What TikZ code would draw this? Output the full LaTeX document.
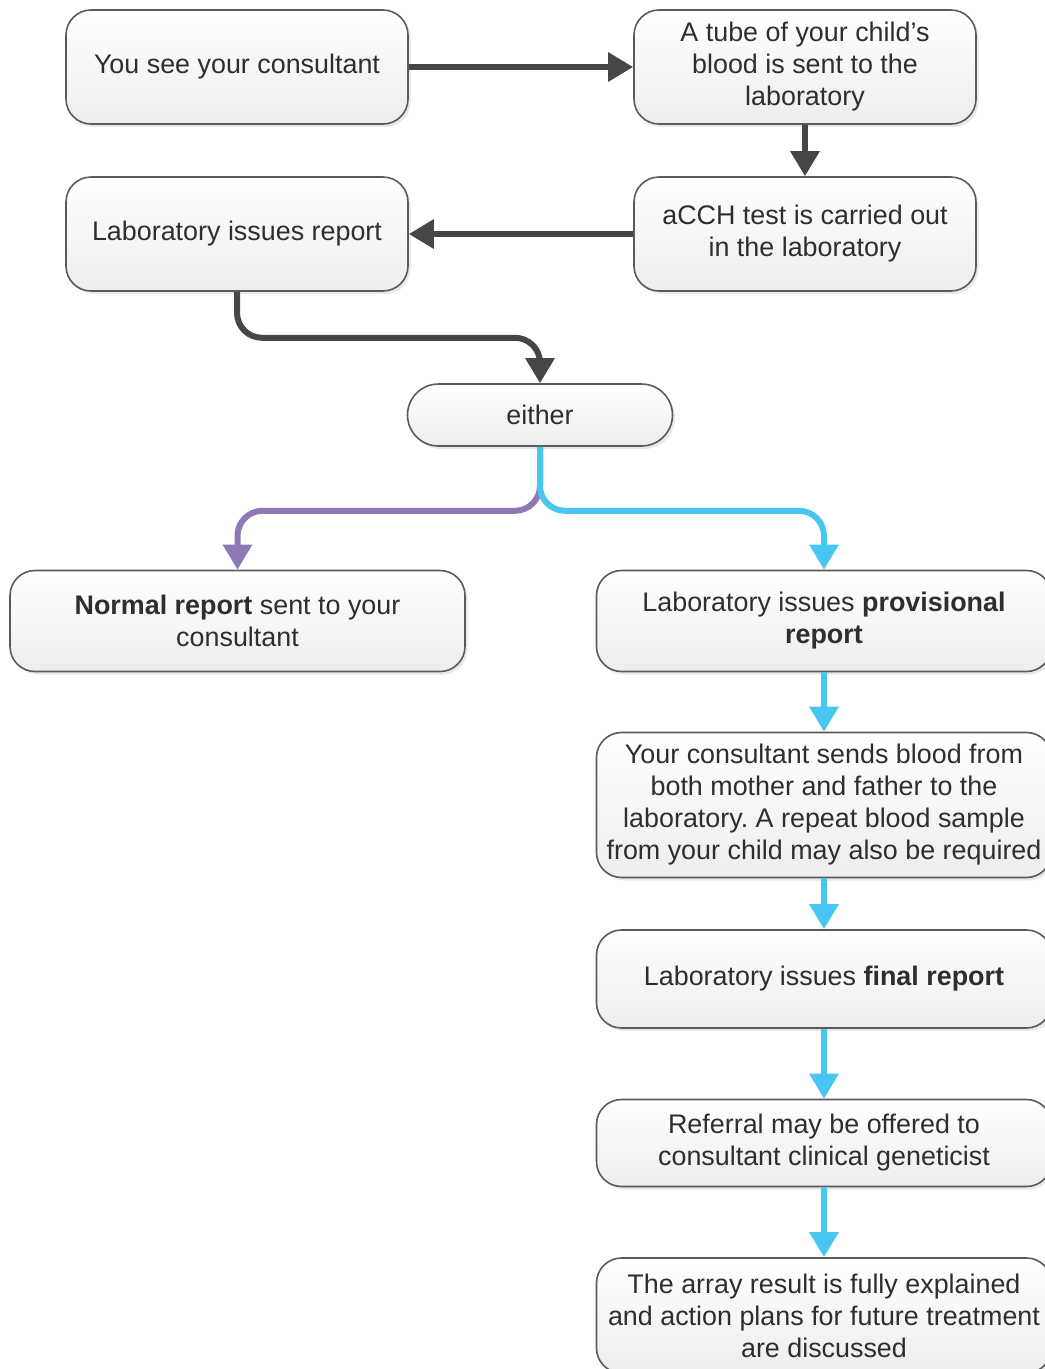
\documentclass[tikz,border=0pt]{standalone}
\usepackage{fontspec}
\setmainfont{Liberation Sans}
\usepackage{tikz}
\usetikzlibrary{arrows.meta,positioning,shadows}
\definecolor{boxline}{HTML}{5A5A5A}
\definecolor{darkflow}{HTML}{464646}
\definecolor{blueflow}{HTML}{48C5F0}
\definecolor{purpleflow}{HTML}{8E78B6}
\definecolor{txt}{HTML}{2E2E2E}
\frenchspacing

\begin{document}
\begin{tikzpicture}[
  x=1cm,
  y=1cm,
  stepbox/.style={draw=boxline, line width=0.9pt, rounded corners=0.5cm,
    top color=white, bottom color=black!7, align=center, inner sep=0pt,
    text=txt, font=\fontsize{15.3}{18.2}\selectfont,
    drop shadow={shadow xshift=0.05cm, shadow yshift=-0.06cm, opacity=0.18}},
  topbox/.style={stepbox, minimum width=6.84cm, minimum height=2.28cm},
  widebox/.style={stepbox, minimum width=9.1cm},
  pill/.style={stepbox, rounded corners=0.62cm, minimum width=5.3cm, minimum height=1.24cm},
  darr/.style={-{Triangle[width=0.56cm,length=0.5cm]}, draw=darkflow, line width=0.12cm},
  barr/.style={-{Triangle[width=0.56cm,length=0.5cm]}, draw=blueflow, line width=0.12cm},
  parr/.style={-{Triangle[width=0.56cm,length=0.5cm]}, draw=purpleflow, line width=0.12cm}
]
\useasboundingbox (0,0) rectangle (20.9,-27.38);

% top two rows
\node[topbox] (see) at (4.74,-1.34) {You see your consultant};
\node[topbox] (tube) at (16.1,-1.34) {A tube of your child's\\blood is sent to the\\laboratory};
\node[topbox] (issue) at (4.74,-4.68) {Laboratory issues report};
\node[topbox] (acch) at (16.1,-4.68) {aCCH test is carried out\\in the laboratory};
\node[pill] (either) at (10.8,-8.3) {either};

% branches
\node[widebox, minimum height=2.02cm] (normal) at (4.75,-12.42) {\textbf{Normal report} sent to your\\consultant};
\node[widebox, minimum height=2.02cm] (prov) at (16.48,-12.42) {Laboratory issues \textbf{provisional}\\\textbf{report}};
\node[widebox, minimum height=2.9cm] (parents) at (16.48,-16.1) {Your consultant sends blood from\\both mother and father to the\\laboratory. A repeat blood sample\\from your child may also be required};
\node[widebox, minimum height=1.96cm] (final) at (16.48,-19.58) {Laboratory issues \textbf{final report}};
\node[widebox, minimum height=1.74cm] (referral) at (16.48,-22.86) {Referral may be offered to\\consultant clinical geneticist};
\node[widebox, minimum height=2.3cm] (array) at (16.48,-26.31) {The array result is fully explained\\and action plans for future treatment\\are discussed};

\draw[darr] (see) -- (tube);
\draw[darr] (tube) -- (acch);
\draw[darr] (acch) -- (issue);
\draw[darr, rounded corners=0.5cm] (issue.south) -- ++(0,-0.92) -| (either.north);

\draw[parr, rounded corners=0.5cm] (either.south) -- ++(0,-1.28) -| (normal.north);
\draw[barr, rounded corners=0.5cm] (either.south) -- ++(0,-1.28) -| (prov.north);
\draw[barr] (prov) -- (parents);
\draw[barr] (parents) -- (final);
\draw[barr] (final) -- (referral);
\draw[barr] (referral) -- (array);
\end{tikzpicture}
\end{document}
